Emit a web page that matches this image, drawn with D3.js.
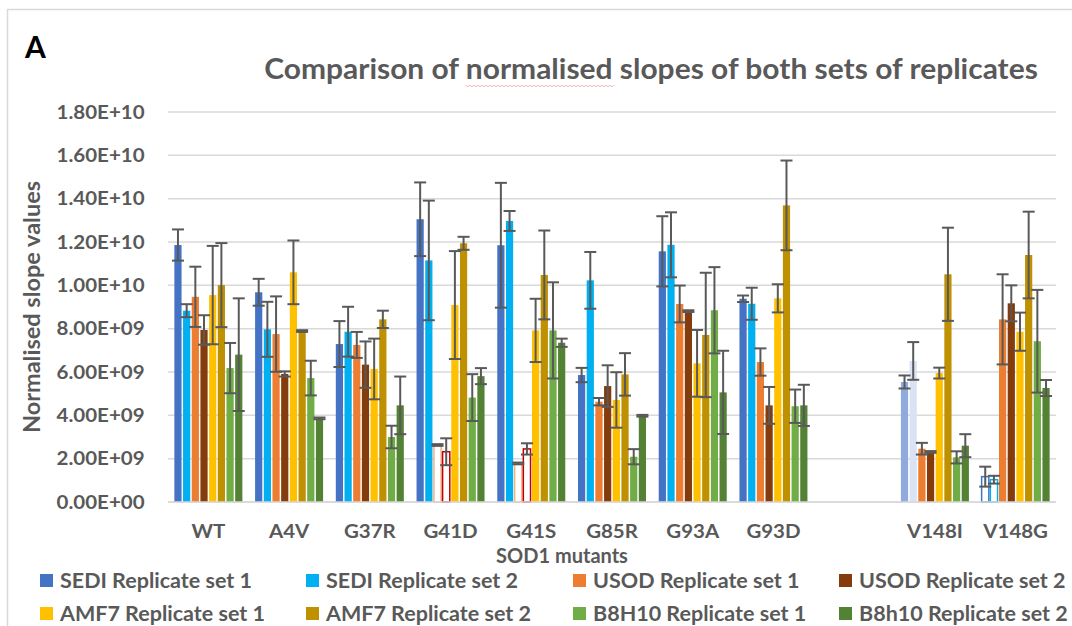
<!DOCTYPE html>
<html>
<head>
<meta charset="utf-8">
<script src="https://cdn.jsdelivr.net/npm/d3@7"></script>
<style>
  body { margin: 0; background: #fff; }
  text { font-family: Lato, "Open Sans", sans-serif; font-weight: 700; }
</style>
</head>
<body>
<div id="chart"></div>
<script>
// categories along the x axis (one empty slot between G93D and V148I)
const categories = ["WT", "A4V", "G37R", "G41D", "G41S", "G85R", "G93A", "G93D", "", "V148I", "V148G"];

const seriesNames = [
    "SEDI Replicate set 1", "SEDI Replicate set 2",
    "USOD Replicate set 1", "USOD Replicate set 2",
    "AMF7 Replicate set 1", "AMF7 Replicate set 2",
    "B8H10 Replicate set 1", "B8h10 Replicate set 2"
];

// values in units of 1e10
const sedi1    = [1.186, 0.968, 0.729, 1.305, 1.185, 0.586, 1.157, 0.938, null, 0.554, 0.117];
const sedi1Err = [0.072, 0.062, 0.106, 0.170, 0.288, 0.033, 0.162, 0.015, null, 0.030, 0.046];
const sedi2    = [0.883, 0.797, 0.786, 1.115, 1.297, 1.023, 1.187, 0.915, null, 0.651, 0.103];
const sedi2Err = [0.030, 0.127, 0.115, 0.276, 0.046, 0.131, 0.150, 0.074, null, 0.087, 0.018];
const usod1    = [0.947, 0.775, 0.725, 0.263, 0.178, 0.463, 0.914, 0.646, null, 0.246, 0.843];
const usod1Err = [0.139, 0.174, 0.060, 0.004, 0.004, 0.017, 0.085, 0.063, null, 0.027, 0.208];
const usod2    = [0.794, 0.591, 0.634, 0.232, 0.245, 0.535, 0.881, 0.446, null, 0.231, 0.917];
const usod2Err = [0.068, 0.012, 0.107, 0.062, 0.026, 0.096, 0.004, 0.085, null, 0.004, 0.083];
const amf1     = [0.955, 1.060, 0.614, 0.909, 0.792, 0.471, 0.640, 0.940, null, 0.595, 0.786];
const amf1Err  = [0.227, 0.147, 0.140, 0.249, 0.146, 0.128, 0.154, 0.065, null, 0.025, 0.088];
const amf2     = [1.001, 0.789, 0.843, 1.194, 1.048, 0.589, 0.771, 1.369, null, 1.051, 1.140];
const amf2Err  = [0.194, 0.004, 0.040, 0.030, 0.205, 0.098, 0.287, 0.207, null, 0.215, 0.200];
const b8h1     = [0.618, 0.572, 0.300, 0.482, 0.792, 0.209, 0.885, 0.442, null, 0.206, 0.742];
const b8h1Err  = [0.116, 0.080, 0.052, 0.108, 0.222, 0.035, 0.199, 0.077, null, 0.028, 0.237];
const b8h2     = [0.680, 0.386, 0.446, 0.581, 0.735, 0.398, 0.506, 0.446, null, 0.260, 0.526];
const b8h2Err  = [0.260, 0.004, 0.133, 0.037, 0.019, 0.004, 0.192, 0.095, null, 0.053, 0.037];

const yTicks = [0, 0.2, 0.4, 0.6, 0.8, 1.0, 1.2, 1.4, 1.6, 1.8];

const seriesValues = [sedi1, sedi2, usod1, usod2, amf1, amf2, b8h1, b8h2];
const seriesErrors = [sedi1Err, sedi2Err, usod1Err, usod2Err, amf1Err, amf2Err, b8h1Err, b8h2Err];

const colors = ["#4472c4", "#00b0f0", "#ed7d31", "#843c0c", "#ffc000", "#bf9000", "#70ad47", "#548235"];

// bars drawn differently in the original (category index -> series index -> style)
const specialStyles = {
    3: { 2: { fill: "#fff", stroke: "#f4b183" }, 3: { fill: "#fff", stroke: "#c00000" } },
    4: { 2: { fill: "#fff", stroke: "#f4b183" }, 3: { fill: "#fff", stroke: "#c00000" } },
    9: { 0: { fill: "#8faadc" }, 1: { fill: "#dae3f3" } },
    10: { 0: { fill: "#fff", stroke: "#4472c4" }, 1: { fill: "#fff", stroke: "#00b0f0" } }
};

const W = 1072, H = 626;
const textGray = "#595959";
const gridGray = "#d9d9d9";

const svg = d3.select("#chart").append("svg")
    .attr("width", W)
    .attr("height", H);

svg.append("rect").attr("width", W).attr("height", H).attr("fill", "#fff");

// outer chart border
svg.append("rect")
    .attr("x", 7.5).attr("y", 9.5)
    .attr("width", W + 20).attr("height", H + 20)
    .attr("fill", "none")
    .attr("stroke", gridGray)
    .attr("stroke-width", 1.5);

// the original text looks slightly wider than Lato, so stretch it a bit
function placeText(sel, px, py, k) {
    return sel.attr("transform", `translate(${px},${py}) scale(${k},1)`);
}

const x = d3.scaleBand()
    .domain(d3.range(categories.length))
    .range([168, 1056])
    .padding(0);

const inner = d3.scaleBand()
    .domain(d3.range(seriesNames.length))
    .range([0, 68])
    .paddingInner(0.17)
    .paddingOuter(0);

const innerOffset = (x.bandwidth() - 68) / 2;

const y = d3.scaleLinear()
    .domain([0, 1.8])
    .range([502, 112]);

function sciFormat(v) {
    const val = v * 1e10;
    if (val === 0) return "0.00E+00";
    const exp = Math.floor(Math.log10(val) + 1e-9);
    const mant = val / Math.pow(10, exp);
    return mant.toFixed(2) + "E+" + String(exp).padStart(2, "0");
}

// gridlines
svg.append("g")
    .selectAll("line")
    .data(yTicks)
    .join("line")
    .attr("x1", 168).attr("x2", 1056)
    .attr("y1", d => y(d)).attr("y2", d => y(d))
    .attr("stroke", gridGray)
    .attr("stroke-width", 1.5);

// y axis
const yAxis = svg.append("g")
    .attr("transform", "translate(150,0)")
    .call(d3.axisLeft(y).tickValues(yTicks).tickFormat(sciFormat).tickSize(0).tickPadding(5));
yAxis.select(".domain").remove();
yAxis.selectAll("text")
    .attr("fill", textGray)
    .attr("transform", "scale(1.08,1)")
    .style("font-size", "19px")
    .style("font-family", "Lato, sans-serif")
    .style("font-weight", "700");

// bars
const groups = svg.append("g")
    .selectAll("g")
    .data(categories.map((c, i) => i))
    .join("g")
    .attr("transform", i => `translate(${x(i) + innerOffset},0)`);

const barData = ci => seriesValues.map((vals, si) => ({
    ci: ci, si: si, v: vals[ci], e: seriesErrors[si][ci]
})).filter(d => d.v != null);

groups.selectAll("rect")
    .data(barData)
    .join("rect")
    .attr("x", d => inner(d.si))
    .attr("y", d => y(d.v))
    .attr("width", inner.bandwidth())
    .attr("height", d => y(0) - y(d.v))
    .attr("fill", d => {
        const s = specialStyles[d.ci] && specialStyles[d.ci][d.si];
        return s && s.fill ? s.fill : colors[d.si];
    })
    .attr("stroke", d => {
        const s = specialStyles[d.ci] && specialStyles[d.ci][d.si];
        return s && s.stroke ? s.stroke : "none";
    })
    .attr("stroke-width", 1.5);

// x axis line
svg.append("line")
    .attr("x1", 168).attr("x2", 1056)
    .attr("y1", y(0)).attr("y2", y(0))
    .attr("stroke", gridGray)
    .attr("stroke-width", 1.5);

// error bars
const errG = groups.selectAll("g.err")
    .data(barData)
    .join("g")
    .attr("class", "err")
    .attr("stroke", "#595959")
    .attr("stroke-width", 2);

errG.append("line")
    .attr("x1", d => inner(d.si) + inner.bandwidth() / 2)
    .attr("x2", d => inner(d.si) + inner.bandwidth() / 2)
    .attr("y1", d => y(d.v + d.e))
    .attr("y2", d => y(d.v - d.e));

[1, -1].forEach(sign => {
    errG.append("line")
        .attr("x1", d => inner(d.si) + inner.bandwidth() / 2 - 6)
        .attr("x2", d => inner(d.si) + inner.bandwidth() / 2 + 6)
        .attr("y1", d => y(d.v + sign * d.e))
        .attr("y2", d => y(d.v + sign * d.e));
});

// x axis labels
svg.append("g")
    .selectAll("text")
    .data(categories.map((c, i) => i))
    .join("text")
    .each(function (i) {
        placeText(d3.select(this), x(i) + x.bandwidth() / 2, 538, 1.05);
    })
    .attr("text-anchor", "middle")
    .attr("fill", textGray)
    .style("font-size", "19.5px")
    .text(i => categories[i]);

// axis titles
placeText(svg.append("text"), 562, 563, 1.0)
    .attr("text-anchor", "middle")
    .attr("fill", textGray)
    .style("font-size", "20px")
    .text("SOD1 mutants");

svg.append("text")
    .attr("transform", "translate(40,307) rotate(-90)")
    .attr("text-anchor", "middle")
    .attr("fill", textGray)
    .style("font-size", "23.5px")
    .text("Normalised slope values");

// title
const title = placeText(svg.append("text"), 651, 79, 1.07)
    .attr("text-anchor", "middle")
    .attr("fill", textGray)
    .style("font-size", "28px")
    .text("Comparison of normalised slopes of both sets of replicates");

// spell-check squiggle under "normalised"
const tNode = title.node();
const startIdx = 14;
const k = 1.07;
const sx = 651 + tNode.getStartPositionOfChar(startIdx).x * k;
const sw = tNode.getSubStringLength(startIdx, 10) * k;
let squiggle = `M${sx},85`;
for (let px = sx, n = 0; px < sx + sw; px += 2, n++) {
    squiggle += ` L${px + 2},${n % 2 ? 85 : 87}`;
}
svg.append("path")
    .attr("d", squiggle)
    .attr("fill", "none")
    .attr("stroke", "#e8a0a0")
    .attr("stroke-width", 0.8);

// panel letter
svg.append("text")
    .attr("x", 25).attr("y", 58)
    .attr("fill", "#000")
    .style("font-size", "30px")
    .text("A");

// legend
const legendX = [40, 306, 573, 839];
const legendY = [581, 614];
const legend = svg.append("g")
    .selectAll("g")
    .data(seriesNames.map((n, i) => i))
    .join("g")
    .attr("transform", i => `translate(${legendX[i % 4]},${legendY[Math.floor(i / 4)]})`);

legend.append("rect")
    .attr("x", 0).attr("y", -7)
    .attr("width", 13).attr("height", 13)
    .attr("fill", i => colors[i]);

legend.append("text")
    .attr("x", 20).attr("y", 7)
    .attr("fill", textGray)
    .style("font-size", "21.5px")
    .text(i => seriesNames[i]);
</script>
</body>
</html>
